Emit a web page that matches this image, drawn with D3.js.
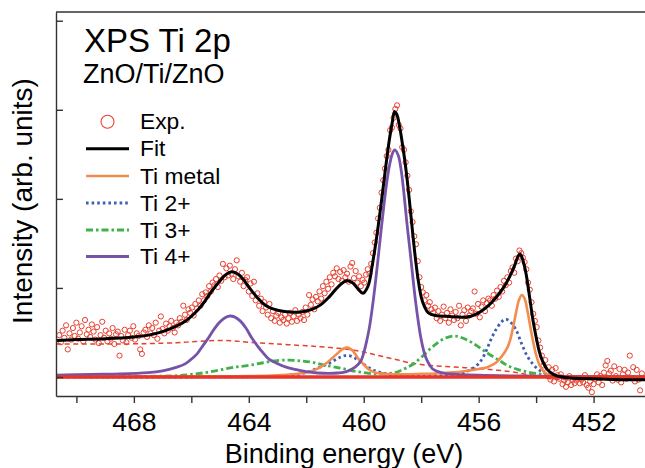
<!DOCTYPE html>
<html><head><meta charset="utf-8">
<script src="https://cdn.jsdelivr.net/npm/d3@7"></script>
<style>
body{margin:0;background:#fff}
svg{display:block}
text{font-family:"Liberation Sans",Arial,Helvetica,sans-serif;fill:#000}
</style></head>
<body><svg id="chart" width="645" height="468"></svg>
<script>
// ---------------- DATA ----------------
const titleText = "XPS Ti 2p";
const subtitleText = "ZnO/Ti/ZnO";
const xLabel = "Binding energy (eV)";
const yLabel = "Intensity (arb. units)";
const xTickValues = [470, 468, 466, 464, 462, 460, 458, 456, 454, 452];
const xTickLabels = ["", "468", "", "464", "", "460", "", "456", "", "452"];
const yTickValues = [0, 1, 2, 3, 4];
const legendLabels = ["Exp.", "Fit", "Ti metal", "Ti 2+", "Ti 3+", "Ti 4+"];

const expStart = 470.60, expStep = 0.06;
const expValues = [
0.47,0.39,0.52,0.44,0.58,0.31,0.49,0.42,0.55,0.46,
0.61,0.43,0.50,0.57,0.40,0.64,0.48,0.53,0.45,0.59,
0.51,0.42,0.56,0.38,0.47,0.62,0.44,0.52,0.40,0.49,
0.43,0.55,0.37,0.48,0.51,0.24,0.46,0.41,0.53,0.39,
0.47,0.52,0.44,0.57,0.42,0.49,0.46,0.31,0.26,0.50,
0.53,0.45,0.58,0.49,0.55,0.47,0.61,0.43,0.52,0.68,
0.54,0.49,0.60,0.52,0.57,0.63,0.55,0.50,0.61,0.58,
0.66,0.62,0.80,0.70,0.64,0.76,0.72,0.78,0.69,0.82,
0.77,0.86,0.80,0.93,0.86,0.95,0.91,1.02,0.96,1.06,
1.03,1.10,1.01,1.14,1.08,1.27,1.12,1.22,1.14,1.25,
1.16,1.10,1.21,1.31,1.13,1.07,1.17,1.02,1.09,1.12,
0.96,1.05,0.91,1.07,0.86,0.94,0.80,0.88,0.74,0.84,
0.78,0.70,0.82,0.66,0.74,0.63,0.69,0.72,0.61,0.67,
0.64,0.70,0.60,0.66,0.72,0.62,0.68,0.75,0.63,0.70,
0.66,0.73,0.64,0.78,0.70,0.92,0.81,0.87,0.76,0.90,
0.85,0.96,0.88,1.02,0.94,1.07,0.99,1.12,1.04,1.17,
1.13,1.22,1.10,1.18,1.08,1.20,1.12,1.16,1.07,1.24,
1.28,1.11,1.19,1.06,1.13,1.02,1.09,1.06,1.15,1.21,
1.16,1.27,1.39,1.51,1.62,1.78,1.90,2.07,2.21,2.34,
2.48,2.55,2.77,2.80,2.91,3.01,3.05,2.83,2.79,2.58,
2.55,2.41,2.26,2.10,1.86,1.74,1.58,1.49,1.30,1.12,
1.01,0.95,0.86,0.92,0.80,0.84,0.76,0.72,0.78,0.66,
0.74,0.63,0.70,0.79,0.66,0.72,0.61,0.76,0.69,0.64,
0.73,0.66,0.80,0.58,0.70,0.75,0.63,0.78,0.69,0.74,
0.77,0.96,0.71,0.82,0.67,0.79,0.86,0.74,0.83,0.88,
0.86,0.80,0.92,0.88,0.97,0.90,1.01,0.96,1.08,1.03,
1.12,1.06,1.19,1.23,1.17,1.33,1.30,1.42,1.39,1.34,
1.29,1.21,1.06,0.98,0.84,0.71,0.63,0.56,0.41,0.33,
0.24,0.13,0.19,0.06,0.11,-0.03,0.08,-0.05,0.10,0.02,
-0.02,0.03,-0.08,-0.04,-0.11,-0.06,0.01,-0.09,-0.03,-0.07,
-0.04,-0.01,-0.07,-0.03,-0.06,0.02,-0.09,-0.12,-0.05,-0.17,
-0.08,-0.02,0.03,-0.06,0.01,-0.09,0.05,0.13,0.18,0.04,
0.07,-0.04,0.12,0.01,-0.03,0.09,-0.06,0.03,0.08,-0.02,
0.05,0.24,-0.01,0.11,-0.05,0.08,-0.03,-0.15,0.04
];

// fitted curves: [binding energy, intensity]
const fitCurve = [
[470.7,0.41],[470.0,0.42],[469.0,0.43],[468.0,0.45],[467.5,0.47],[467.0,0.51],[466.6,0.56],[466.2,0.63],[465.9,0.71],[465.6,0.82],[465.3,0.96],[465.0,1.08],[464.8,1.15],[464.62,1.18],[464.4,1.16],[464.2,1.10],[464.0,1.01],[463.7,0.89],[463.4,0.80],[463.0,0.75],[462.6,0.73],[462.2,0.73],[461.8,0.76],[461.5,0.81],[461.2,0.90],[460.9,1.01],[460.6,1.08],[460.4,1.06],[460.2,0.99],[460.03,0.94],[459.85,1.02],[459.7,1.26],[459.55,1.57],[459.4,1.93],[459.25,2.32],[459.1,2.68],[459.0,2.87],[458.93,2.98],[458.85,2.95],[458.75,2.81],[458.6,2.50],[458.5,2.25],[458.4,1.95],[458.3,1.63],[458.2,1.33],[458.1,1.08],[458.0,0.90],[457.9,0.80],[457.75,0.72],[457.5,0.69],[457.0,0.68],[456.6,0.67],[456.3,0.68],[456.0,0.72],[455.7,0.79],[455.4,0.89],[455.1,1.02],[454.9,1.14],[454.75,1.25],[454.62,1.36],[454.55,1.38],[454.45,1.30],[454.35,1.16],[454.25,0.95],[454.1,0.62],[454.0,0.45],[453.9,0.30],[453.75,0.16],[453.6,0.08],[453.4,0.03],[453.2,0.005],[452.8,-0.01],[452.0,-0.02],[451.0,-0.03],[450.2,-0.03]
];
const tiMetal = [
[470.7,0],[466.0,0.005],[464.0,0.01],[463.0,0.02],[462.5,0.03],[462.0,0.05],[461.7,0.08],[461.4,0.13],[461.1,0.21],[460.9,0.27],[460.7,0.32],[460.55,0.33],[460.4,0.30],[460.3,0.26],[460.2,0.21],[460.0,0.14],[459.8,0.08],[459.6,0.05],[459.3,0.035],[459.0,0.03],[458.5,0.03],[458.0,0.035],[457.5,0.04],[457.0,0.05],[456.5,0.065],[456.0,0.09],[455.7,0.11],[455.4,0.16],[455.2,0.23],[455.0,0.33],[454.9,0.42],[454.8,0.56],[454.7,0.72],[454.6,0.86],[454.5,0.92],[454.4,0.88],[454.3,0.74],[454.2,0.56],[454.1,0.39],[454.0,0.25],[453.9,0.15],[453.8,0.09],[453.7,0.05],[453.5,0.02],[453.0,0.005],[450.2,0]
];
const ti2 = [
[470.7,0],[464.0,0.003],[463.0,0.01],[462.5,0.02],[462.2,0.035],[461.9,0.06],[461.6,0.10],[461.3,0.14],[461.0,0.19],[460.8,0.225],[460.65,0.24],[460.45,0.235],[460.2,0.19],[459.9,0.12],[459.6,0.07],[459.3,0.04],[459.0,0.02],[458.5,0.01],[458.0,0.01],[457.5,0.015],[457.0,0.02],[456.6,0.04],[456.3,0.08],[456.0,0.15],[455.8,0.25],[455.6,0.40],[455.4,0.53],[455.2,0.62],[455.07,0.65],[454.9,0.62],[454.7,0.53],[454.5,0.37],[454.3,0.23],[454.1,0.14],[453.9,0.08],[453.7,0.045],[453.4,0.02],[453.0,0.01],[452.0,0],[450.2,0]
];
const ti3 = [
[470.7,0],[468.0,0.005],[467.0,0.01],[466.5,0.015],[466.0,0.03],[465.5,0.05],[465.0,0.08],[464.5,0.11],[464.0,0.13],[463.5,0.16],[463.0,0.185],[462.6,0.19],[462.2,0.18],[461.8,0.165],[461.3,0.13],[460.8,0.10],[460.4,0.07],[460.0,0.05],[459.6,0.035],[459.2,0.04],[458.9,0.05],[458.6,0.09],[458.3,0.14],[458.0,0.22],[457.6,0.34],[457.2,0.43],[456.84,0.46],[456.5,0.43],[456.1,0.36],[455.7,0.27],[455.3,0.19],[455.0,0.13],[454.6,0.08],[454.2,0.05],[453.8,0.03],[453.3,0.01],[452.5,0.003],[450.2,0]
];
const ti4 = [
[470.7,0.02],[469.5,0.03],[468.5,0.035],[467.5,0.05],[467.0,0.07],[466.5,0.11],[466.2,0.15],[466.0,0.20],[465.8,0.26],[465.6,0.35],[465.4,0.44],[465.2,0.54],[465.0,0.62],[464.8,0.67],[464.65,0.685],[464.5,0.675],[464.3,0.63],[464.1,0.55],[463.9,0.44],[463.7,0.35],[463.5,0.27],[463.3,0.20],[463.0,0.15],[462.7,0.11],[462.3,0.08],[462.0,0.06],[461.6,0.045],[461.2,0.04],[460.9,0.045],[460.6,0.06],[460.3,0.11],[460.1,0.18],[460.0,0.27],[459.9,0.40],[459.8,0.56],[459.7,0.78],[459.6,1.04],[459.5,1.33],[459.4,1.63],[459.3,1.92],[459.2,2.18],[459.1,2.38],[459.0,2.51],[458.92,2.55],[458.8,2.49],[458.7,2.33],[458.6,2.06],[458.5,1.74],[458.4,1.45],[458.3,1.15],[458.2,0.86],[458.1,0.62],[458.0,0.42],[457.9,0.28],[457.8,0.19],[457.6,0.09],[457.3,0.05],[457.0,0.035],[456.0,0.02],[454.0,0.01],[452.0,0.005],[450.2,0]
];
const background = [
[470.7,0.37],[469.0,0.37],[467.5,0.375],[466.5,0.385],[466.0,0.395],[465.5,0.405],[465.0,0.41],[464.5,0.405],[464.0,0.39],[463.0,0.37],[462.0,0.35],[461.5,0.34],[461.0,0.325],[460.5,0.31],[460.0,0.28],[459.6,0.25],[459.2,0.22],[458.8,0.19],[458.4,0.16],[458.0,0.14],[457.5,0.125],[457.0,0.115],[456.5,0.105],[456.0,0.095],[455.5,0.08],[455.0,0.065],[454.6,0.045],[454.3,0.03],[454.0,0.01],[453.7,-0.01],[453.3,-0.025],[452.5,-0.03],[450.2,-0.03]
];
const zeroLine = [[470.7,0],[450.2,0]];

// ---------------- DRAW ----------------
const svg = d3.select("#chart");
const L = 56, R = 645, T = 12, B = 396;
const x = d3.scaleLinear().domain([470.71, 450.21]).range([L, R]);
const y = d3.scaleLinear().domain([-0.2133, 4.098]).range([B, T]);

svg.append("defs").append("clipPath").attr("id","clip")
  .append("rect").attr("x",L).attr("y",T).attr("width",R-L).attr("height",B-T);

const plot = svg.append("g").attr("clip-path","url(#clip)");
const line = d3.line().x(d=>x(d[0])).y(d=>y(d[1])).curve(d3.curveCatmullRom.alpha(0.5));

const styles = {
  exp:   {stroke:"#e8402f"},
  fit:   {stroke:"#000000", w:3},
  metal: {stroke:"#f28c4f", w:2.6},
  ti2:   {stroke:"#3d5fb5", w:2.8, dash:"2.6,3"},
  ti3:   {stroke:"#3fb24a", w:2.8, dash:"7,3,2.5,3"},
  ti4:   {stroke:"#7653a8", w:2.8},
  bg:    {stroke:"#e8402f", w:1.5, dash:"5,3.5"},
  zero:  {stroke:"#e8352a", w:3.6}
};

const expPts = expValues.map((v,i)=>[expStart - i*expStep, v]);
plot.append("g").selectAll("circle").data(expPts).join("circle")
  .attr("cx",d=>x(d[0])).attr("cy",d=>y(d[1])).attr("r",2.6)
  .attr("fill","none").attr("stroke",styles.exp.stroke).attr("stroke-width",1);

function drawLine(data, st){
  plot.append("path").datum(data).attr("d",line)
    .attr("fill","none").attr("stroke",st.stroke).attr("stroke-width",st.w)
    .attr("stroke-dasharray",st.dash||null).attr("stroke-linejoin","round");
}
drawLine(background, styles.bg);
drawLine(ti3, styles.ti3);
drawLine(ti2, styles.ti2);
drawLine(tiMetal, styles.metal);
drawLine(ti4, styles.ti4);
drawLine(zeroLine, styles.zero);
drawLine(fitCurve, styles.fit);

// axes
const xAxis = d3.axisBottom(x).tickValues(xTickValues)
  .tickFormat((d,i)=>xTickLabels[i]).tickSize(7).tickSizeOuter(0).tickPadding(9.5);
const gx = svg.append("g").attr("transform",`translate(0,${B})`).call(xAxis);
gx.selectAll("text").attr("font-size",26.5).attr("font-family","Liberation Sans, Arial, sans-serif").attr("fill","#000");
gx.selectAll("line,path").attr("stroke","#333").attr("stroke-width",1.4);

const yAxis = d3.axisLeft(y).tickValues(yTickValues).tickFormat("").tickSize(-7).tickSizeOuter(0);
const gy = svg.append("g").attr("transform",`translate(${L},0)`).call(yAxis);
gy.selectAll("line,path").attr("stroke","#333").attr("stroke-width",1.4);

svg.append("line").attr("x1",L).attr("x2",R).attr("y1",T).attr("y2",T)
  .attr("stroke","#333").attr("stroke-width",1.4);

// axis titles
svg.append("text").attr("x",344).attr("y",463).attr("text-anchor","middle")
  .attr("font-size",27).text(xLabel);
svg.append("text").attr("transform","translate(32,201) rotate(-90)")
  .attr("text-anchor","middle").attr("font-size",28).text(yLabel);

// titles
svg.append("text").attr("x",84).attr("y",52).attr("font-size",33).text(titleText);
svg.append("text").attr("x",83).attr("y",82.5).attr("font-size",27).text(subtitleText);

// legend
const legBase = [129.3, 156.3, 183.5, 210.5, 237.5, 264];
const legStyles = [styles.exp, styles.fit, styles.metal, styles.ti2, styles.ti3, styles.ti4];
const lg = svg.append("g");
legendLabels.forEach((lab,i)=>{
  const yy = legBase[i] - 7.5;
  if(i===0){
    lg.append("circle").attr("cx",107.5).attr("cy",yy).attr("r",6.5)
      .attr("fill","none").attr("stroke",legStyles[0].stroke).attr("stroke-width",1.1);
  } else {
    const st = legStyles[i];
    lg.append("line").attr("x1",86).attr("x2",129).attr("y1",yy).attr("y2",yy)
      .attr("stroke",st.stroke).attr("stroke-width",st.w).attr("stroke-dasharray",st.dash||null);
  }
  lg.append("text").attr("x",140).attr("y",legBase[i]).attr("font-size",22.8).text(lab);
});
</script></body></html>
